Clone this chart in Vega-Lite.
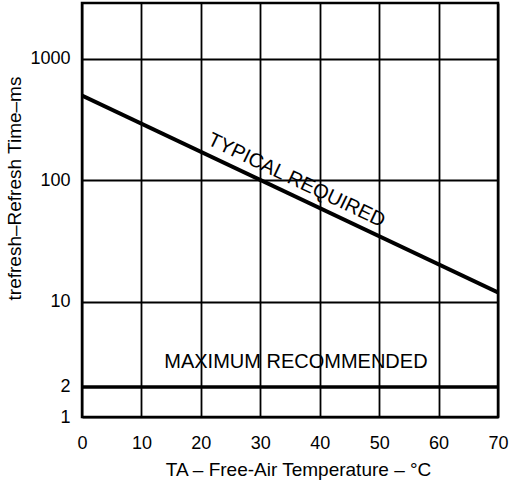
{
  "$schema": "https://vega.github.io/schema/vega-lite/v6.json",
  "width": 416,
  "height": 414,
  "autosize": "none",
  "padding": {"left": 82, "top": 3, "right": 11, "bottom": 70},
  "background": "white",
  "config": {
    "view": {"stroke": "black", "strokeWidth": 2.5},
    "font": "Liberation Sans",
    "axis": {
      "labelFont": "Liberation Sans",
      "titleFont": "Liberation Sans",
      "labelColor": "black",
      "titleColor": "black",
      "labelFontSize": 18,
      "titleFontSize": 19,
      "titleFontWeight": "normal",
      "labelFlush": false,
      "labelOverlap": false,
      "grid": true,
      "gridColor": "black",
      "gridWidth": 1.8,
      "gridOpacity": 1,
      "domain": false,
      "ticks": false,
      "tickSize": 0
    }
  },
  "datasets": {
    "curves": [
      {"curve": "TYPICAL REQUIRED", "temp": 0, "refresh": 500},
      {"curve": "TYPICAL REQUIRED", "temp": 70, "refresh": 12},
      {"curve": "MAXIMUM RECOMMENDED", "temp": 0, "refresh": 2},
      {"curve": "MAXIMUM RECOMMENDED", "temp": 70, "refresh": 2}
    ],
    "labels": [
      {"label": "TYPICAL REQUIRED", "temp": 35, "refresh": 77.5},
      {"label": "MAXIMUM RECOMMENDED", "temp": 36, "refresh": 2}
    ]
  },
  "layer": [
    {
      "data": {"name": "curves"},
      "transform": [{"filter": "datum.curve === 'TYPICAL REQUIRED'"}],
      "mark": {"type": "line", "color": "black", "strokeWidth": 4, "clip": true},
      "encoding": {
        "x": {
          "field": "temp",
          "type": "quantitative",
          "scale": {"domain": [0, 70], "nice": false},
          "axis": {
            "values": [0, 10, 20, 30, 40, 50, 60, 70],
            "labelPadding": 17,
            "title": "TA – Free-Air Temperature – °C",
            "titlePadding": 8,
            "titleX": 216
          }
        },
        "y": {
          "field": "refresh",
          "type": "quantitative",
          "scale": {"type": "log", "domain": [1.13, 2890], "nice": false},
          "axis": {
            "values": [1.13, 2, 10, 100, 1000],
            "format": "d",
            "labelPadding": 12,
            "title": "trefresh–Refresh Time–ms",
            "titlePadding": 5,
            "titleY": 185
          }
        }
      }
    },
    {
      "data": {"name": "curves"},
      "transform": [{"filter": "datum.curve === 'MAXIMUM RECOMMENDED'"}],
      "mark": {"type": "line", "color": "black", "strokeWidth": 3.2, "clip": true},
      "encoding": {
        "x": {"field": "temp", "type": "quantitative"},
        "y": {"field": "refresh", "type": "quantitative"}
      }
    },
    {
      "data": {"name": "labels"},
      "transform": [{"filter": "datum.label === 'TYPICAL REQUIRED'"}],
      "mark": {"type": "text", "angle": 25.5, "align": "center", "baseline": "alphabetic", "dy": -9, "fontSize": 20, "color": "black"},
      "encoding": {
        "x": {"field": "temp", "type": "quantitative"},
        "y": {"field": "refresh", "type": "quantitative"},
        "text": {"field": "label"}
      }
    },
    {
      "data": {"name": "labels"},
      "transform": [{"filter": "datum.label === 'MAXIMUM RECOMMENDED'"}],
      "mark": {"type": "text", "align": "center", "baseline": "alphabetic", "dy": -19, "fontSize": 20, "color": "black"},
      "encoding": {
        "x": {"field": "temp", "type": "quantitative"},
        "y": {"field": "refresh", "type": "quantitative"},
        "text": {"field": "label"}
      }
    }
  ]
}
